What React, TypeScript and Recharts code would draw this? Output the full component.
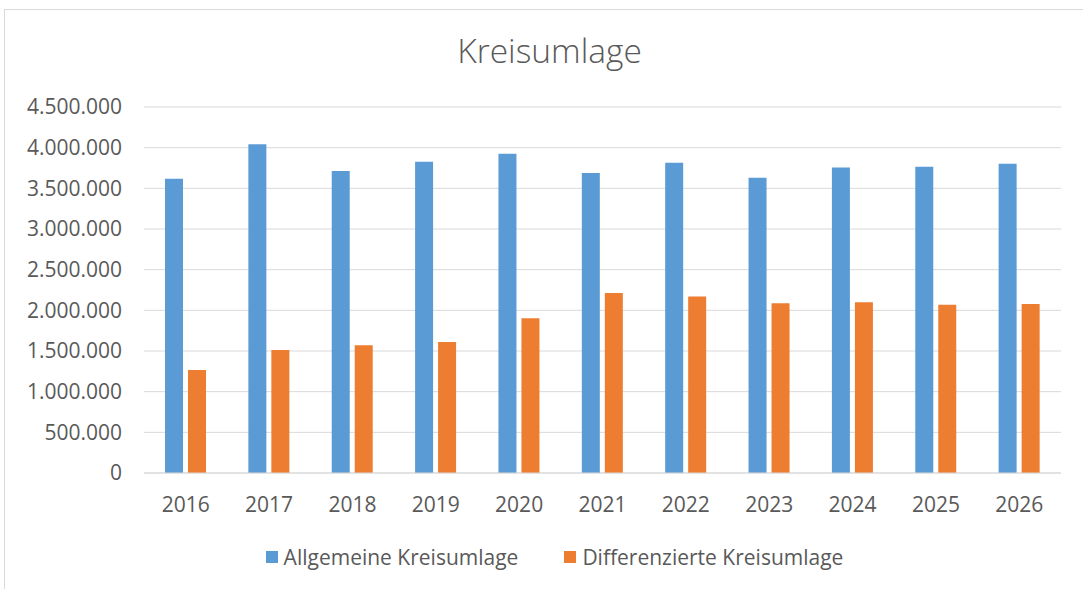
import React from 'react';
import { BarChart, Bar, XAxis, YAxis, CartesianGrid, Legend } from 'recharts';

const years = ['2016', '2017', '2018', '2019', '2020', '2021', '2022', '2023', '2024', '2025', '2026'];
const allgemeine = [3618000, 4041000, 3712000, 3827000, 3924000, 3688000, 3814000, 3631000, 3757000, 3765000, 3802000];
const differenzierte = [1267000, 1512000, 1570000, 1611000, 1903000, 2214000, 2169000, 2086000, 2099000, 2070000, 2078000];
const yTicks = [0, 500000, 1000000, 1500000, 2000000, 2500000, 3000000, 3500000, 4000000, 4500000];

const seriesNames = ['Allgemeine Kreisumlage', 'Differenzierte Kreisumlage'];
const colors = ['#5B9BD5', '#ED7D31'];

const data = years.map((y, i) => ({ year: y, a: allgemeine[i], d: differenzierte[i] }));

const FONT = '"Open Sans", sans-serif';
const TEXT = '#595959';

const fmt = (v: number) => v.toLocaleString('de-DE');

const LegendContent = (props: any) => {
  const payload = props.payload || [];
  return (
    <div style={{ display: 'flex', justifyContent: 'center', alignItems: 'center', fontFamily: FONT, fontSize: 21, color: TEXT, lineHeight: '28px' }}>
      {payload.map((p: any, i: number) => (
        <div key={i} style={{ display: 'flex', alignItems: 'center', marginRight: i === 0 ? 46 : 0 }}>
          <span style={{ display: 'inline-block', width: 12, height: 12, background: p.color, marginRight: 6 }} />
          <span>{p.value}</span>
        </div>
      ))}
    </div>
  );
};

export default function App() {
  return (
    <div style={{ position: 'fixed', left: 0, top: 0, width: 1083, height: 589, overflow: 'hidden', background: '#fff' }}>
      <div style={{ position: 'absolute', left: 4, top: 9, width: 1091, height: 700, border: '1px solid #d9d9d9', boxSizing: 'border-box' }} />
      <div style={{ position: 'absolute', left: 4, top: 27, width: 1091, textAlign: 'center', fontFamily: FONT, fontSize: 33.5, color: TEXT, fontWeight: 300 }}>
        Kreisumlage
      </div>
      <div style={{ position: 'absolute', left: 0, top: 0 }}>
        <BarChart
          width={1083}
          height={589}
          data={data}
          margin={{ top: 107, right: 22, bottom: 86, left: 24 }}
          barSize={18}
          barGap={5}
        >
          <CartesianGrid vertical={false} stroke="#d9d9d9" strokeWidth={1} />
          <XAxis
            dataKey="year"
            axisLine={{ stroke: '#d9d9d9' }}
            tickLine={false}
            tickSize={0}
            tickMargin={24}
            tick={{ fill: TEXT, fontSize: 21, fontFamily: FONT }}
          />
          <YAxis
            width={120}
            domain={[0, 4500000]}
            ticks={yTicks}
            interval={0}
            axisLine={false}
            tickLine={false}
            tickSize={0}
            tickMargin={22}
            tickFormatter={fmt}
            tick={{ fill: TEXT, fontSize: 21, fontFamily: FONT }}
          />
          <Legend
            layout="horizontal"
            verticalAlign="middle"
            align="center"
            content={<LegendContent />}
            wrapperStyle={{ position: 'absolute', left: 9, top: 543, width: 1091 }}
          />
          <Bar dataKey="a" name={seriesNames[0]} fill={colors[0]} isAnimationActive={false} />
          <Bar dataKey="d" name={seriesNames[1]} fill={colors[1]} isAnimationActive={false} />
        </BarChart>
      </div>
    </div>
  );
}
